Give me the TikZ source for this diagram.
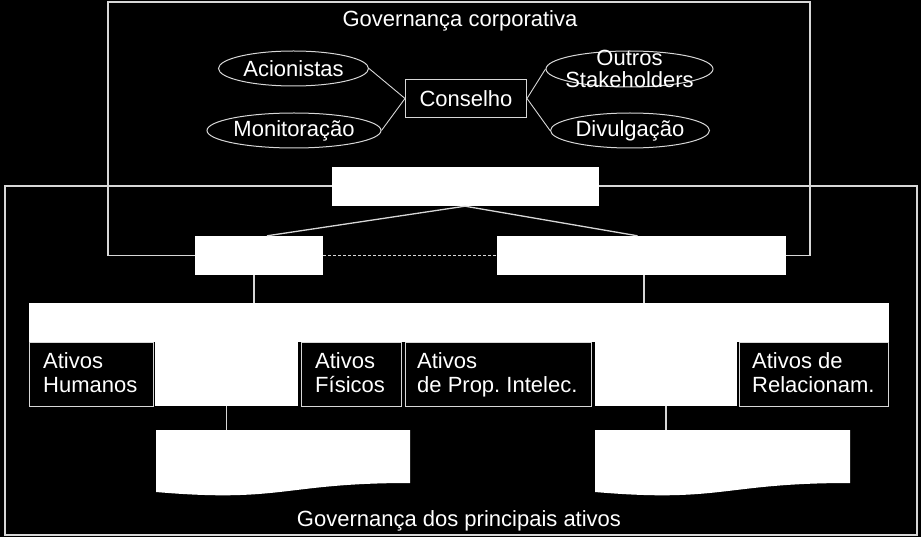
\documentclass[tikz,border=0pt]{standalone}
\usepackage{fontspec}
\setmainfont{Liberation Sans}
\usetikzlibrary{shapes.geometric,calc}
\definecolor{lgray}{RGB}{215,215,215}
\frenchspacing
\begin{document}
\begin{tikzpicture}[x=1pt,y=-1pt,
  ln/.style={draw=lgray, line width=1.3pt},
  thinln/.style={draw=lgray, line width=0.9pt},
  txt/.style={text=white, font=\fontsize{22}{23.5}\selectfont, inner sep=0pt},
  oval/.style={ellipse, draw=lgray, line width=1pt, fill=black, txt},
  wbox/.style={fill=white, draw=none, inner sep=0pt},
  abox/.style={fill=black, draw=lgray, line width=0.8pt, inner sep=0pt, anchor=north west},
  lbl/.style={txt, align=left, anchor=north west}
]
\fill[black] (0,0) rectangle (921,537);
\useasboundingbox (0,0) rectangle (921,537);

% bottom frame
\node[draw=lgray, line width=1.3pt, minimum width=912pt, minimum height=349pt, inner sep=0pt] (fb) at (461,360.5) {};

% top-level boxes
\node[wbox, minimum width=267pt, minimum height=39pt] (tb) at (465,186.5) {};
\node[wbox, minimum width=128pt, minimum height=39pt] (lb) at (259,255.5) {};
\node[wbox, minimum width=289pt, minimum height=39pt] (rb) at (641.5,255.5) {};

% top frame (open, ends at the boxes)
\draw[ln] (lb.west) -- (108,255.5) -- (108,2) -- (810,2) -- (810,255.5) -- (rb.east);

% titles
\node[txt] (t1) at (460,21) {Governança corporativa};
\node[txt] (t2) at (459,521) {Governança dos principais ativos};

% governance elements
\node[oval, minimum width=150pt, minimum height=35pt] (acio) at (293.5,68.5) {Acionistas};
\node[oval, minimum width=174pt, minimum height=35pt] (moni) at (294,130.5) {Monitoração};
\node[draw=lgray, line width=1pt, txt, minimum width=121pt, minimum height=38pt] (cons) at (466,98.5) {Conselho};
\node[oval, minimum width=167pt, minimum height=36pt] (outr) at (629.5,69) {};
\node[txt, align=center, font=\fontsize{22}{22}\selectfont] (outrt) at (629.5,69) {Outros\\Stakeholders};
\node[oval, minimum width=159pt, minimum height=35pt] (divu) at (630,130.5) {Divulgação};

\draw[thinln] (acio.east) -- (cons.west);
\draw[thinln] (moni.east) -- (cons.west);
\draw[thinln] (cons.east) -- (outr.west);
\draw[thinln] (cons.east) -- (divu.west);

% connectors among top boxes
\draw[ln] (tb.south) -- ([xshift=8pt]lb.north);
\draw[ln] (tb.south) -- ([xshift=-4pt]rb.north);
\draw[ln, dash pattern=on 3pt off 2pt] (lb.east) -- (rb.west);

% wide bar and white blocks
\node[wbox, minimum width=860pt, minimum height=39pt] (bar) at (459,322.5) {};
\node[wbox, minimum width=143pt, minimum height=64pt, anchor=north] (wl) at (226.5,342) {};
\node[wbox, minimum width=142pt, minimum height=64pt, anchor=north] (wr) at (666,342) {};

\draw[ln] ([xshift=-5pt]lb.south) -- ([xshift=-5pt]lb.south |- bar.north);
\draw[ln] ([xshift=2.5pt]rb.south) -- ([xshift=2.5pt]rb.south |- bar.north);

% asset boxes
\node[abox, minimum width=124pt, minimum height=64pt] (hum) at (29,342) {};
\node[abox, minimum width=100pt, minimum height=64pt] (fis) at (301,342) {};
\node[abox, minimum width=186pt, minimum height=64pt] (pro) at (405,342) {};
\node[abox, minimum width=149pt, minimum height=64pt] (rel) at (739,342) {};
\node[lbl] (humt) at ($(hum.north west)+(14,10.5)$) {Ativos\\Humanos};
\node[lbl] (fist) at ($(fis.north west)+(14,10.5)$) {Ativos\\Físicos};
\node[lbl] (prot) at ($(pro.north west)+(12,10.5)$) {Ativos\\de Prop. Intelec.};
\node[lbl] (relt) at ($(rel.north west)+(13,10.5)$) {Ativos de\\Relacionam.};

% documents
\coordinate (docl) at (283,430);
\coordinate (docr) at (722.5,430);
\fill[white] (156,430) -- (410,430) -- (410,483) .. controls (283,483) and (283,503) .. (156,492) -- cycle;
\fill[white] (595,430) -- (850,430) -- (850,483) .. controls (722.5,483) and (722.5,503) .. (595,492) -- cycle;
\draw[ln] (wl.south) -- (wl.south |- docl);
\draw[ln] (wr.south) -- (wr.south |- docr);
\end{tikzpicture}
\end{document}
